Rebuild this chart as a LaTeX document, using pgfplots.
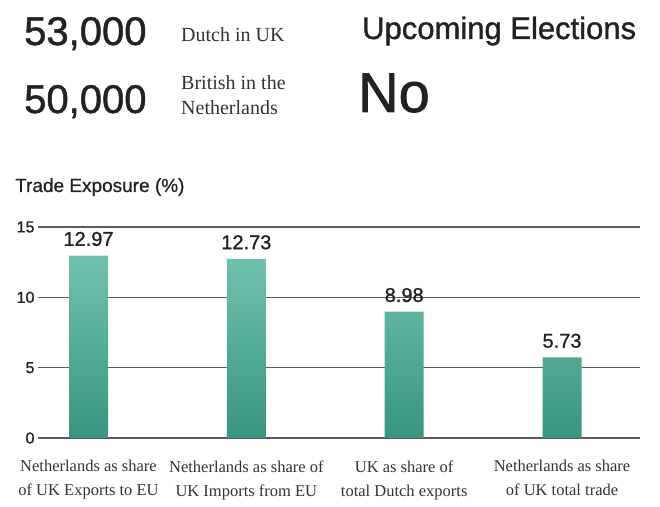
\documentclass[border=0pt]{standalone}
\usepackage{pgfplots}
\pgfplotsset{compat=1.18}
\usepackage{fontspec}
\setmainfont{Liberation Serif}
\setsansfont{Liberation Sans}
\newfontfamily\hv[FakeBold=1.2]{Liberation Sans}
\newfontfamily\hvs[FakeBold=0.8]{Liberation Sans}
\definecolor{barTop}{HTML}{70C2AF}
\definecolor{barBot}{HTML}{38957F}
\definecolor{gridc}{HTML}{5A5A5A}
\definecolor{txt}{HTML}{222222}
\definecolor{stxt}{HTML}{333333}
\begin{document}
\begin{tikzpicture}[x=1pt,y=1pt]
\useasboundingbox (0,0) rectangle (660,506);
% header
\node[anchor=base west, inner sep=0, text=txt, font=\hv\fontsize{40}{40}\selectfont] at (24,461) {53,000};
\node[anchor=base west, inner sep=0, text=stxt, font=\fontsize{20}{20}\selectfont] at (181,464) {Dutch in UK};
\node[anchor=base west, inner sep=0, text=txt, font=\hv\fontsize{40}{40}\selectfont] at (24,393) {50,000};
\node[anchor=base west, inner sep=0, text=stxt, font=\fontsize{20}{20}\selectfont] at (181,416) {British in the};
\node[anchor=base west, inner sep=0, text=stxt, font=\fontsize{20}{20}\selectfont] at (181,391) {Netherlands};
\node[anchor=base west, inner sep=0, text=txt, font=\hv\fontsize{31}{31}\selectfont] at (362,467) {Upcoming Elections};
\node[anchor=base west, inner sep=0, text=txt, font=\hv\fontsize{56}{56}\selectfont] at (358,394) {No};
\node[anchor=base west, inner sep=0, text=txt, font=\hvs\fontsize{19}{19}\selectfont] at (15,314) {Trade Exposure (\%)};
\begin{axis}[
  at={(38pt,68pt)}, anchor=south west,
  scale only axis, width=602pt, height=211pt,
  xmin=-0.32, xmax=3.494, ymin=0, ymax=15,
  ytick={0,5,10,15},
  xtick={0,1,2,3},
  xticklabels={{Netherlands as share\\of UK Exports to EU},{Netherlands as share of\\UK Imports from EU},{UK as share of\\total Dutch exports},{Netherlands as share\\of UK total trade}},
  xticklabel style={align=center, text=stxt, font=\fontsize{16.5}{24}\selectfont, yshift=-19pt},
  yticklabel style={text=txt, font=\hvs\fontsize{16}{16}\selectfont},
  /pgf/number format/assume math mode=true,
  axis line style={draw=none},
  major tick length=0pt,
  ymajorgrids,
  grid style={gridc, line width=1.2pt},
  clip=false,
  nodes near coords,
  nodes near coords style={text=txt, font=\hv\fontsize{20}{20}\selectfont, yshift=6pt, /pgf/number format/.cd, fixed, fixed zerofill, precision=2, assume math mode=true},
]
\addplot[ybar, bar width=39pt, draw=none, top color=barTop, bottom color=barBot] coordinates {(0,12.97) (1,12.73) (2,8.98) (3,5.73)};
\end{axis}
\end{tikzpicture}
\end{document}
